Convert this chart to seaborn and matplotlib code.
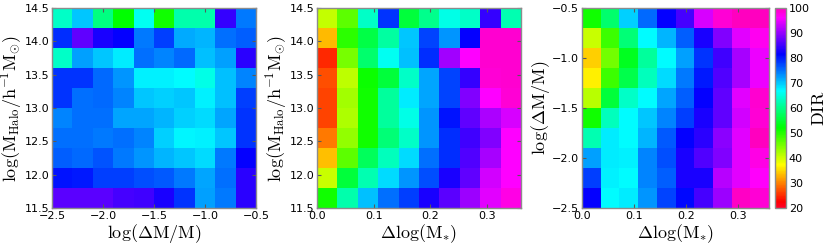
import numpy as np
import matplotlib
matplotlib.use("Agg")
import matplotlib.pyplot as plt
import seaborn as sns

# ---- data (rows listed from top of panel to bottom, columns left to right) ----
dir_halo_vs_dmm = [
    [63.5, 70.0, 59.5, 52.0, 66.0, 51.0, 62.0, 62.0, 84.5, 74.6],
    [79.0, 87.0, 83.0, 81.6, 74.6, 78.0, 71.8, 71.0, 75.0, 76.0],
    [63.5, 72.3, 70.0, 68.0, 75.0, 74.0, 75.5, 70.5, 72.3, 84.0],
    [78.5, 78.5, 75.5, 73.0, 67.5, 67.5, 66.9, 65.5, 70.5, 74.0],
    [78.5, 75.0, 75.5, 74.0, 70.0, 69.5, 70.0, 67.5, 70.5, 78.0],
    [74.0, 75.0, 75.0, 72.0, 72.0, 71.0, 69.5, 69.0, 72.0, 78.5],
    [75.0, 75.0, 74.5, 75.0, 74.0, 69.5, 67.2, 67.5, 70.0, 78.5],
    [76.0, 75.5, 76.7, 74.5, 73.0, 71.0, 70.0, 69.0, 74.5, 81.6],
    [80.5, 80.0, 78.0, 78.0, 77.0, 76.5, 74.5, 72.0, 75.0, 84.0],
    [86.8, 86.8, 86.8, 85.5, 85.0, 83.0, 78.5, 72.3, 74.5, 84.0],
]
dir_halo_vs_dlogm = [
    [40.9, 46.8, 63.5, 78.5, 55.5, 60.0, 65.5, 63.5, 84.5, 62.3],
    [33.2, 49.6, 56.0, 61.5, 70.0, 77.5, 73.0, 81.6, 99.0, 99.0],
    [24.8, 45.0, 58.4, 66.0, 70.5, 79.0, 90.9, 96.0, 99.0, 99.0],
    [27.0, 41.0, 51.5, 55.5, 63.5, 72.0, 77.5, 84.5, 98.5, 98.8],
    [26.5, 42.6, 51.0, 61.0, 68.0, 72.0, 77.5, 89.0, 96.0, 98.5],
    [26.5, 42.0, 51.0, 61.0, 65.5, 73.0, 80.5, 87.0, 91.5, 94.0],
    [29.4, 43.5, 51.0, 59.0, 63.5, 73.0, 79.0, 85.3, 89.0, 96.0],
    [33.5, 46.8, 57.3, 63.0, 69.0, 75.0, 79.0, 86.0, 91.0, 96.0],
    [40.4, 55.5, 62.3, 69.0, 73.0, 77.0, 83.0, 87.0, 93.5, 96.0],
    [51.0, 62.0, 70.5, 75.0, 78.0, 83.0, 86.8, 90.5, 94.5, 97.5],
]
dir_dmm_vs_dlogm = [
    [51.0, 58.4, 69.5, 75.5, 81.6, 85.5, 94.0, 98.5, 100.0, 100.0],
    [40.4, 48.5, 59.0, 67.0, 71.0, 76.0, 83.0, 89.0, 94.6, 97.0],
    [34.5, 45.5, 54.0, 61.0, 67.0, 72.3, 78.5, 85.3, 91.0, 95.0],
    [36.5, 48.5, 56.5, 63.0, 69.0, 74.5, 80.0, 86.0, 91.0, 95.0],
    [41.5, 55.5, 63.5, 67.0, 72.0, 76.0, 81.6, 87.0, 94.5, 99.0],
    [51.0, 63.0, 67.0, 70.0, 74.0, 78.0, 83.0, 87.0, 93.5, 98.5],
    [62.3, 68.0, 67.0, 71.0, 76.5, 81.6, 84.0, 89.6, 94.5, 100.0],
    [72.3, 68.0, 67.5, 74.0, 77.0, 83.0, 86.0, 89.0, 94.6, 97.5],
    [78.0, 67.5, 67.0, 74.0, 76.0, 83.0, 83.0, 92.0, 94.6, 96.5],
    [81.6, 67.0, 68.0, 73.0, 77.5, 81.0, 85.5, 90.5, 99.5, 98.5],
]

# axis ranges and tick labels
dmm_range = (-2.5, -0.5)
halo_range = (11.5, 14.5)
dlogm_range = (0.0, 0.36)
dmm_ticks = [-2.5, -2.0, -1.5, -1.0, -0.5]
halo_ticks = [11.5, 12.0, 12.5, 13.0, 13.5, 14.0, 14.5]
dlogm_ticks = [0.0, 0.1, 0.2, 0.3]
cbar_ticks = [20, 30, 40, 50, 60, 70, 80, 90, 100]

xlab_dmm = r"$\log(\Delta\mathrm{M/M})$"
ylab_halo = r"$\log(\mathrm{M_{Halo}/h^{-1}M_{\odot}})$"
xlab_dlogm = r"$\Delta\log(\mathrm{M_{*}})$"
cbar_label = r"$\mathrm{DIR}$"

plt.rcParams["mathtext.fontset"] = "cm"
plt.rcParams["font.family"] = ["DejaVu Sans"]

fig = plt.figure(figsize=(8.3, 2.44), dpi=100)
W, H = 830.0, 244.0
def rect(x0, x1, y0, y1):
    return [x0 / W, 1 - y1 / H, (x1 - x0) / W, (y1 - y0) / H]

ax1 = fig.add_axes(rect(52, 256, 8, 208))
ax2 = fig.add_axes(rect(317, 521, 8, 208))
ax3 = fig.add_axes(rect(582, 769, 8, 208))
cax = fig.add_axes(rect(775, 786, 8, 208))

cmap = "gist_rainbow"
vmin, vmax = 20, 100

def draw(ax, data, xr, yr, xt, yt, xlab, ylab, cbar=False):
    arr = np.asarray(data)
    ny, nx = arr.shape
    sns.heatmap(arr, ax=ax, cmap=cmap, vmin=vmin, vmax=vmax,
                cbar=cbar, cbar_ax=cax if cbar else None,
                xticklabels=False, yticklabels=False)
    # map value coords to cell coords
    xpos = [(v - xr[0]) / (xr[1] - xr[0]) * nx for v in xt]
    ypos = [(yr[1] - v) / (yr[1] - yr[0]) * ny for v in yt]
    ax.set_xticks(xpos)
    ax.set_xticklabels([f"{v:.1f}".replace("-", "\u2212") for v in xt], fontsize=8)
    ax.set_yticks(ypos)
    ax.set_yticklabels([f"{v:.1f}".replace("-", "\u2212") for v in yt], fontsize=8)
    for t in ax.get_yticklabels():
        t.set_rotation(0)
    ax.tick_params(direction="in", top=True, right=True, length=3,
                   color="0.35", pad=2)
    for s in ax.spines.values():
        s.set_visible(True)
        s.set_color("0.55")
        s.set_linewidth(1.0)
    ax.set_xlabel(xlab, fontsize=13, labelpad=1)
    ax.set_ylabel(ylab, fontsize=13, labelpad=0)

draw(ax1, dir_halo_vs_dmm, dmm_range, halo_range, dmm_ticks, halo_ticks, xlab_dmm, ylab_halo)
draw(ax2, dir_halo_vs_dlogm, dlogm_range, halo_range, dlogm_ticks, halo_ticks, xlab_dlogm, ylab_halo)
draw(ax3, dir_dmm_vs_dlogm, dlogm_range, dmm_range, dlogm_ticks, dmm_ticks, xlab_dlogm, xlab_dmm, cbar=True)

cb = ax3.collections[0].colorbar
cb.set_ticks(cbar_ticks)
cb.ax.tick_params(labelsize=8, length=0, pad=2)
cb.outline.set_edgecolor("0.55")
cb.outline.set_linewidth(1.0)
cb.set_label(cbar_label, fontsize=13, labelpad=0)

fig.savefig("out.png", dpi=100)
